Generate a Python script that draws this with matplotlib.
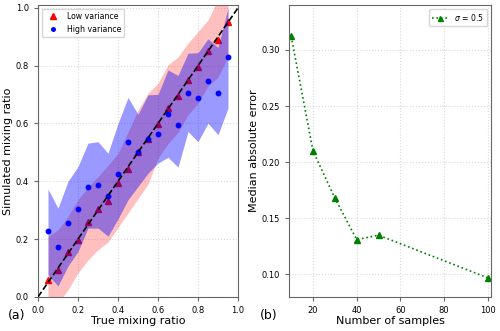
import numpy as np
import matplotlib.pyplot as plt

# panel (a) data
true_ratio = [0.05, 0.10, 0.15, 0.20, 0.25, 0.30, 0.35, 0.40, 0.45, 0.50,
              0.55, 0.60, 0.65, 0.70, 0.75, 0.80, 0.85, 0.90, 0.95]
low_var = [0.057, 0.093, 0.155, 0.198, 0.258, 0.303, 0.333, 0.395, 0.443, 0.500,
           0.545, 0.597, 0.655, 0.695, 0.750, 0.795, 0.850, 0.888, 0.952]
high_var = [0.228, 0.172, 0.255, 0.305, 0.380, 0.388, 0.350, 0.424, 0.537, 0.503,
            0.546, 0.565, 0.634, 0.595, 0.707, 0.689, 0.746, 0.705, 0.830]
low_lo = [-0.03, -0.02, 0.024, 0.083, 0.128, 0.163, 0.190, 0.240, 0.290, 0.340,
          0.390, 0.480, 0.530, 0.570, 0.630, 0.670, 0.730, 0.760, 0.830]
low_hi = [0.209, 0.232, 0.278, 0.336, 0.380, 0.416, 0.455, 0.497, 0.570, 0.647,
          0.705, 0.739, 0.803, 0.830, 0.878, 0.918, 0.958, 1.030, 1.060]
high_lo = [0.076, 0.038, 0.107, 0.157, 0.238, 0.238, 0.210, 0.270, 0.336, 0.382,
           0.428, 0.463, 0.483, 0.449, 0.572, 0.537, 0.601, 0.561, 0.653]
high_hi = [0.373, 0.307, 0.400, 0.451, 0.532, 0.537, 0.497, 0.600, 0.690, 0.632,
           0.699, 0.701, 0.785, 0.766, 0.843, 0.845, 0.893, 0.863, 1.000]

# panel (b) data
n_samples = [10, 20, 30, 40, 50, 100]
med_err = [0.312, 0.210, 0.168, 0.131, 0.135, 0.097]

fig = plt.figure(figsize=(5, 3.31), dpi=100)
ax1 = fig.add_axes([0.076, 0.103, 0.4, 0.882])
ax2 = fig.add_axes([0.578, 0.103, 0.404, 0.882])

for ax in (ax1, ax2):
    ax.grid(True, color='0.85', linestyle=':', linewidth=0.8)
    ax.set_axisbelow(True)
    for s in ax.spines.values():
        s.set_color('0.4')
    ax.tick_params(labelsize=6, length=3, color='0.4')

ax1.fill_between(true_ratio, low_lo, low_hi, color='red', alpha=0.25, lw=0, zorder=1)
ax1.plot(true_ratio, low_var, '^', color='red', ms=5, label='Low variance', zorder=2)
ax1.fill_between(true_ratio, high_lo, high_hi, color='blue', alpha=0.4, lw=0, zorder=3)
ax1.plot(true_ratio, high_var, 'o', color='blue', ms=3.2, label='High variance', zorder=4)
ax1.plot([0, 1], [0, 1], '--', color='black', lw=1.2, zorder=5)
ax1.set_xlim(0, 1.0)
ax1.set_ylim(0, 1.01)
ax1.set_xticks(np.arange(0, 1.01, 0.2))
ax1.set_yticks(np.arange(0, 1.01, 0.2))
ax1.set_xlabel('True mixing ratio', fontsize=8, labelpad=1)
ax1.set_ylabel('Simulated mixing ratio', fontsize=8, labelpad=2)
ax1.legend(loc='upper left', fontsize=5.6, markerscale=0.8)

ax2.plot(n_samples, med_err, ':^', color='green', ms=4.5, lw=1.2,
         label=r'$\sigma$ = 0.5')
ax2.set_xlim(9, 101.5)
ax2.set_ylim(0.08, 0.34)
ax2.set_yticks([0.10, 0.15, 0.20, 0.25, 0.30])
ax2.set_xticks([20, 40, 60, 80, 100])
ax2.set_xlabel('Number of samples', fontsize=8, labelpad=1)
ax2.set_ylabel('Median absolute error', fontsize=8, labelpad=2)
ax2.legend(loc='upper right', fontsize=5.6, markerscale=0.8)

fig.text(0.016, 0.048, '(a)', fontsize=9, va='center')
fig.text(0.52, 0.048, '(b)', fontsize=9, va='center')

fig.savefig('out.png', dpi=100)
